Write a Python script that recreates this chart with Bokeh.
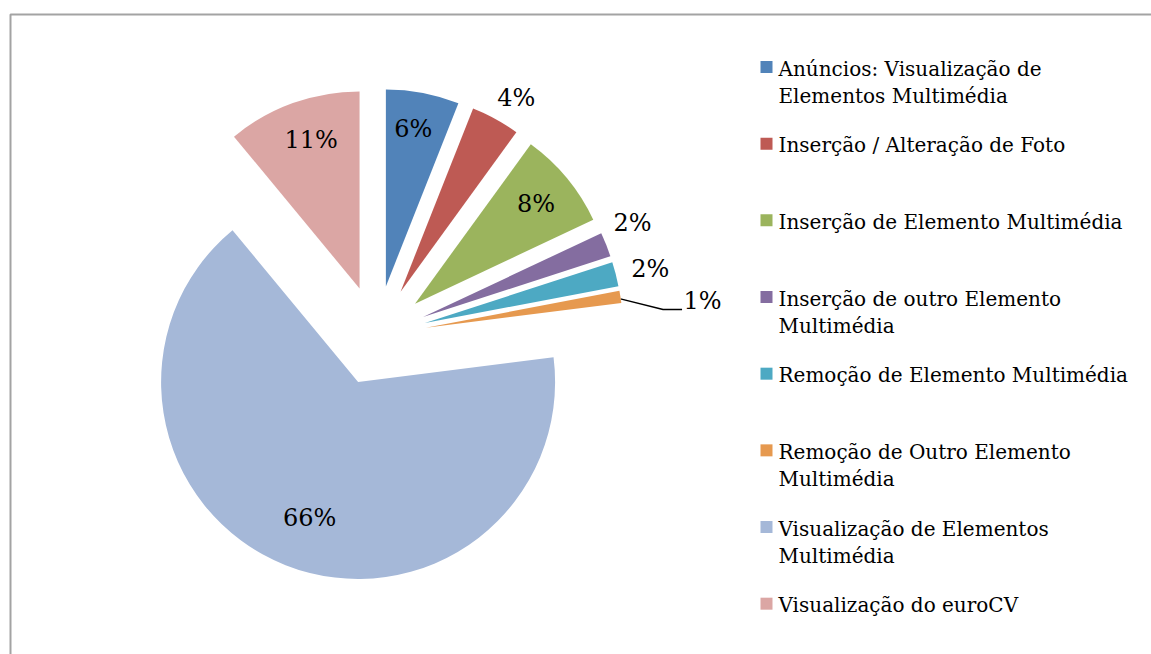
import math
import textwrap
from bokeh.plotting import figure
from bokeh.models import Range1d, ColumnDataSource
from bokeh.embed import file_html
from bokeh.resources import INLINE
from bokeh.core.properties import value

# ---- data ----
categories = [
    "Anúncios: Visualização de Elementos Multimédia",
    "Inserção / Alteração de Foto",
    "Inserção de Elemento Multimédia",
    "Inserção de outro Elemento Multimédia",
    "Remoção de Elemento Multimédia",
    "Remoção de Outro Elemento Multimédia",
    "Visualização de Elementos Multimédia",
    "Visualização do euroCV",
]
percentages = [6, 4, 8, 2, 2, 1, 66, 11]
colors = ["#5183B9", "#BE5A54", "#9BB45D", "#846DA0",
          "#4DA9C3", "#E6994F", "#A5B8D8", "#DBA6A4"]

# ---- layout (page pixel space) ----
W, H = 1151, 654
FONT = "DejaVu Serif"
TEXT_DY = -8.0   # compensation for svg baseline placement
def px(x):
    return x
def py(y):
    return H - y

CX, CY = 376.0, 335.0     # common pie centre (page px)
R = 197.0
EXPLODE = 50.0
label_r = [161, 226, 157, 230, 232, 278, 144, 157]
label_shift = [-1.0, 2.0, 0.0, -2.7, 0.7, 3.4, -1.9, 1.8]
leader = [False, False, False, False, False, True, False, False]

p = figure(width=W, height=H, x_range=Range1d(0, W), y_range=Range1d(0, H),
           x_axis_type=None, y_axis_type=None, min_border=0,
           toolbar_location=None, output_backend="svg")
p.grid.visible = False
p.outline_line_color = None
p.background_fill_color = "white"
p.border_fill_color = "white"

# chart-area border (top and left visible)
p.line([px(10), px(10), px(1160)], [py(670), py(14), py(14)],
       line_color="#A3A3A3", line_width=2)

total = float(sum(percentages))
xs, ys, starts, ends = [], [], [], []
lab_x, lab_y, lab_t = [], [], []
cum = 0.0
for i, v in enumerate(percentages):
    a0 = cum / total
    a1 = (cum + v) / total
    cum += v
    mid_cw = math.pi * (a0 + a1)          # clockwise from 12 o'clock (radians)
    ax = CX + EXPLODE * math.sin(mid_cw)
    ay = CY - EXPLODE * math.cos(mid_cw)
    xs.append(px(ax)); ys.append(py(ay))
    starts.append(math.pi / 2 - 2 * math.pi * a1)
    ends.append(math.pi / 2 - 2 * math.pi * a0)
    phi = mid_cw + math.radians(label_shift[i])
    lx = ax + label_r[i] * math.sin(phi)
    ly = ay - label_r[i] * math.cos(phi)
    lab_x.append(px(lx)); lab_y.append(py(ly + 8.8 + TEXT_DY)); lab_t.append(f"{v}%")
    if leader[i]:
        sx = ax + R * math.sin(mid_cw)
        sy = ay - R * math.cos(mid_cw)
        p.line([px(sx), px(lx - 39.5), px(lx - 20.5)],
               [py(sy + 2), py(ly + 9), py(ly + 9)],
               line_color="black", line_width=1.5)

src = ColumnDataSource(dict(x=xs, y=ys, start=starts, end=ends, color=colors))
p.wedge(x="x", y="y", radius=R, start_angle="start", end_angle="end",
        fill_color="color", line_color=None, source=src)

p.text(lab_x, lab_y, text=lab_t, text_align="center", text_baseline="alphabetic",
       text_font=value(FONT), text_font_size="24px", text_color="black")

# legend
sq_x, sq_y = [], []
tx, ty, tt = [], [], []
for i, name in enumerate(categories):
    base = 76 + i * 76.67
    sq_x.append(px(766)); sq_y.append(py(base - 9.5))
    for j, line in enumerate(textwrap.wrap(name, 31)):
        tx.append(px(778)); ty.append(py(base + j * 27.3 + TEXT_DY)); tt.append(line)
p.rect(sq_x, sq_y, width=12, height=12, fill_color=colors, line_color=None)
p.text(tx, ty, text=tt, text_align="left", text_baseline="alphabetic",
       text_font=value(FONT), text_font_size="20px", text_color="black")

open("out.html", "w").write(file_html(p, INLINE))
